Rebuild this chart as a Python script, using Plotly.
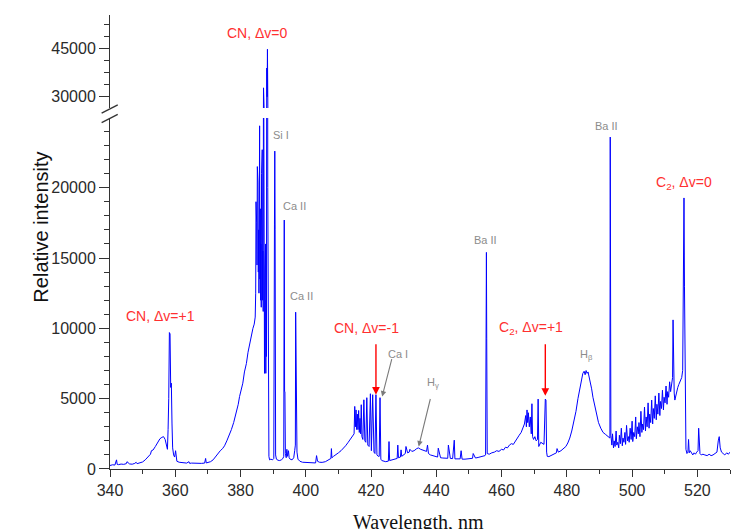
import plotly.graph_objects as go

# ---------------- data ----------------
wl_a = [340.0, 340.8, 341.5, 342.0, 342.2, 342.6, 343.4, 344.2, 345.0, 345.2, 346.0, 346.8,
        347.6, 348.0, 348.3, 349.2, 350.0, 350.8, 351.6, 352.4, 352.7, 353.2, 353.9, 354.6,
        355.3, 355.9, 356.4, 356.9, 357.3]
int_a = [250, 300, 280, 650, 330, 310, 350, 330, 380, 520, 360, 340,
         400, 480, 380, 420, 500, 650, 850, 1050, 1300, 1350, 1600, 1900,
         2150, 2250, 2300, 2100, 1650]

wl_b = [357.6, 357.8, 358.0, 358.2, 358.4, 358.6, 358.8, 359.0, 359.2, 359.5, 359.8, 360.1,
        360.3, 360.5, 361.2, 362.0, 362.8, 363.5, 364.2, 364.4, 365.0, 366.0, 367.0, 368.0,
        369.0, 369.3, 369.5, 370.0, 370.8, 371.6]
int_b = [1400, 2800, 5000, 9700, 9600, 5800, 6100, 3200, 1500, 1000, 850, 1300,
         700, 550, 480, 460, 430, 420, 520, 400, 420, 400, 380, 400,
         420, 750, 430, 460, 520, 650]

wl_c = [372.4, 373.1, 373.8, 374.5, 375.1, 375.8, 376.5, 377.2, 377.9, 378.7, 379.3, 379.7,
        380.2, 380.7, 381.2, 381.8, 382.3, 382.8, 383.3, 383.8, 384.2, 384.5]
int_c = [900, 1140, 1300, 1450, 1650, 2000, 2350, 2800, 3300, 3950, 4600, 5150,
         5600, 6100, 6900, 7500, 8300, 8950, 9600, 10000, 10300, 10800]

wl_d = [384.65, 384.75, 384.85, 384.95, 385.05, 385.15, 385.25, 385.35, 385.45, 385.55,
        385.65, 385.75, 385.85, 385.95, 386.05, 386.15, 386.25, 386.35, 386.45, 386.55,
        386.65, 386.75, 386.85, 386.95, 387.05, 387.15, 387.25, 387.35, 387.45, 387.55,
        387.65, 387.75, 387.85, 387.95, 388.05, 388.15, 388.25, 388.35, 388.45, 388.55,
        388.7, 388.9]
int_d = [12500, 19000, 13000, 17500, 14500, 21500, 15000, 20400, 14000, 17000,
         12500, 19000, 24400, 13500, 18500, 12000, 16000, 11500, 21000, 13000,
         22700, 12000, 15500, 11200, 32760, 12000, 16000, 6800, 14000, 7000,
         16000, 6800, 12000, 8000, 38900, 30000, 44700, 20000, 6000, 2000,
         900, 650]

wl_e = [389.3, 389.8, 390.2, 390.4, 390.5, 390.6, 390.75, 391.0, 391.5, 392.0, 392.5, 393.0,
        393.25, 393.4, 393.5, 393.6, 393.75, 394.0, 394.2, 394.4, 394.7, 394.9, 395.2, 395.8,
        396.3, 396.6, 396.8, 396.9, 397.0, 397.1, 397.3, 397.6, 398.2, 399.0, 400.0, 401.0,
        402.0, 403.0, 403.3, 403.6, 404.2, 405.0, 406.0, 407.0, 407.7, 407.85, 408.0]
int_e = [700, 650, 750, 17350, 22600, 17000, 1000, 700, 620, 600, 650, 750,
         900, 17700, 5500, 5500, 1100, 800, 1400, 900, 1300, 800, 700, 650,
         800, 1300, 1700, 11150, 5400, 2500, 1200, 700, 550, 480, 470, 450,
         420, 430, 950, 550, 480, 470, 520, 650, 750, 1450, 800]

wl_f = [408.5, 409.2, 410.0, 410.8, 411.5, 412.2, 413.0, 413.6, 414.2, 414.8, 415.0, 415.2,
        415.4, 415.6, 415.8, 416.0, 416.2, 416.4, 416.6, 416.8, 417.0, 417.2, 417.5, 417.8,
        418.1, 418.4, 418.7, 419.0, 419.4, 419.8, 420.1, 420.5, 420.9, 421.2, 421.5, 421.8,
        422.2, 422.5, 422.75, 423.0, 423.3]
int_f = [900, 1000, 1150, 1300, 1450, 1650, 1900, 2100, 2300, 2500, 4450, 3000,
         4200, 2800, 3900, 2800, 4160, 2600, 3600, 2500, 4570, 2300, 2100, 4920,
         2000, 1900, 5070, 1700, 1600, 5350, 1300, 5280, 1200, 1100, 5280, 1000,
         900, 900, 5070, 700, 600]

wl_g = [423.8, 424.5, 425.3, 425.5, 425.7, 426.5, 427.3, 428.0, 428.2, 428.4, 429.0, 429.2,
        429.4, 430.0, 430.5, 430.7, 431.2, 431.7, 431.9, 432.5, 433.2, 434.0, 434.5, 435.2,
        435.8, 436.5, 437.0, 437.3, 437.6, 438.2, 439.0, 439.8, 440.4, 440.6, 441.3, 442.0,
        442.8, 443.5, 443.7, 444.3, 445.0, 445.5, 445.7, 446.5, 447.3, 447.6, 447.9, 448.8,
        449.6, 450.4, 451.1, 451.3, 452.0, 452.8, 453.5, 454.2, 454.9]
int_g = [550, 520, 560, 1950, 600, 650, 700, 750, 1700, 800, 850, 1360,
         900, 1000, 1100, 1600, 1150, 1200, 1400, 1250, 1300, 1450, 1500, 1400,
         1350, 1300, 1250, 1700, 1100, 1000, 950, 880, 850, 1480, 800, 780,
         760, 760, 1700, 750, 740, 2050, 720, 700, 720, 1300, 700, 700,
         720, 750, 760, 1100, 780, 820, 850, 900, 950]

wl_h = [455.1, 455.25, 455.35, 455.45, 455.6, 456.2, 457.0, 457.8, 458.5, 459.2, 460.0, 460.6,
        461.2, 461.8, 462.4, 463.0, 463.6, 464.2, 464.8, 465.4, 466.0, 466.5, 467.0, 467.4,
        467.6, 467.8, 468.0, 468.2, 468.5, 468.8, 469.1, 469.3, 469.5, 469.8, 470.2, 470.6,
        471.0, 471.2, 471.4, 471.6, 472.0, 472.5, 473.0, 473.4, 473.6, 473.8, 474.0]
int_h = [1000, 9300, 15400, 9300, 1100, 1050, 1150, 1200, 1300, 1250, 1400, 1350,
         1550, 1500, 1700, 1800, 1750, 2000, 2200, 2400, 2600, 2900, 3200, 3800,
         3000, 4200, 3300, 4000, 3000, 3700, 2500, 4640, 2300, 2100, 2300, 2000,
         2100, 4970, 1600, 1700, 1900, 1800, 1750, 4970, 4900, 1200, 900]

wl_i = [474.5, 475.2, 476.0, 476.8, 477.0, 477.4, 478.2, 479.0, 479.7, 480.3, 480.9, 481.5,
        482.2, 482.8, 483.4, 483.9, 484.4, 484.9, 485.3, 485.6, 485.9, 486.2, 486.5, 486.8,
        487.2, 487.6, 488.0, 488.5, 489.1, 489.7, 490.4, 491.1, 491.9, 492.5, 493.0]
int_i = [880, 950, 1050, 1150, 1450, 1200, 1300, 1450, 1600, 1850, 2200, 2700,
         3400, 4100, 5000, 5700, 6300, 6800, 6950, 6700, 7000, 6800, 6900, 6600,
         6200, 5700, 5100, 4500, 3900, 3300, 2900, 2600, 2450, 2300, 2250]

wl_j = [493.2, 493.3, 493.4, 493.5, 493.8, 494.0, 494.3, 494.5, 494.8, 495.1, 495.3, 495.6,
        495.9, 496.1, 496.4, 496.7, 497.0, 497.2, 497.5, 497.8, 498.0, 498.3, 498.6, 498.9,
        499.1, 499.4, 499.7, 500.0, 500.2, 500.5, 500.8, 501.1, 501.3, 501.6, 501.9, 502.1,
        502.4, 502.7, 503.0, 503.2, 503.5, 503.8, 504.1, 504.3, 504.6, 504.9, 505.2, 505.4,
        505.7, 506.0, 506.3, 506.5, 506.8, 507.1, 507.4, 507.6, 507.9, 508.2, 508.5, 508.7,
        509.0, 509.3, 509.6, 509.8, 510.1, 510.4, 510.7, 510.9, 511.2, 511.5, 511.8, 512.1,
        512.4, 512.55, 512.7, 512.9, 513.1, 513.4, 513.7, 514.0, 514.3, 514.6, 514.9, 515.2,
        515.5, 515.75, 515.9, 516.05, 516.3, 516.5]
int_j = [2200, 23600, 9000, 2400, 1700, 2500, 1500, 2000, 1600, 2700, 1700, 1900,
         1500, 2400, 1800, 2900, 1650, 2200, 1900, 2600, 1750, 3100, 2000, 2300,
         1900, 2900, 2100, 3400, 1950, 2600, 2300, 3700, 2150, 3000, 2500, 3300,
         2300, 4100, 2600, 3200, 2800, 4400, 2700, 3700, 3000, 4700, 2900, 3900,
         3300, 4900, 3200, 4300, 3600, 5200, 3500, 4600, 3900, 5400, 3800, 4800,
         4300, 5600, 4200, 5100, 4700, 5900, 4600, 5500, 5100, 6200, 5500, 6000,
         6500, 10600, 6000, 5400, 4900, 5300, 5600, 5800, 6000, 6200, 6300, 6500,
         7000, 13000, 19270, 13000, 6000, 1400]

wl_k = [516.8, 517.1, 517.3, 517.5, 517.8, 518.2, 518.6, 519.0, 519.4, 519.8, 520.2, 520.4,
        520.6, 520.8, 521.2, 521.7, 522.3, 523.0, 523.6, 524.2, 524.8, 525.4, 526.0, 526.4,
        526.7, 527.0, 527.4, 527.9, 528.4, 529.0, 529.5, 530.0]
int_k = [1100, 1200, 2100, 1150, 1300, 1100, 1000, 1150, 1050, 1200, 1300, 2900,
         2000, 1100, 1000, 1050, 1000, 950, 1050, 950, 1000, 1100, 1200, 2000,
         2300, 1500, 1200, 1100, 1000, 1150, 1050, 1200]

wavelength_nm = wl_a + wl_b + wl_c + wl_d + wl_e + wl_f + wl_g + wl_h + wl_i + wl_j + wl_k
intensity = int_a + int_b + int_c + int_d + int_e + int_f + int_g + int_h + int_i + int_j + int_k

x_range = [340, 530]
y_low_range = [0, 24950]
y_high_range = [26500, 55300]
y_high_ticks = [30000, 45000]

# ---------------- figure ----------------
BLUE = "#0000ff"
RED = "#ff3030"
GRAY = "#8c8c8c"
AXC = "#333333"
SANS = "Liberation Sans, Arial, sans-serif"

fig = go.Figure()
for ax in ["y", "y2"]:
    fig.add_trace(go.Scatter(x=wavelength_nm, y=intensity, mode="lines",
                             line=dict(color=BLUE, width=1), xaxis="x", yaxis=ax,
                             showlegend=False, hoverinfo="skip"))

tickfont = dict(family=SANS, size=16, color="#2a2a2a")
common = dict(showline=True, linecolor=AXC, linewidth=1, ticks="outside",
              tickcolor=AXC, showgrid=False, zeroline=False, tickfont=tickfont,
              tickformat="d", automargin=False)

fig.update_layout(
    width=747, height=529,
    margin=dict(l=110, r=17, t=15, b=60, autoexpand=False),
    paper_bgcolor="white", plot_bgcolor="white",
    xaxis=dict(range=x_range, domain=[0, 1], anchor="y", tick0=340, dtick=20, ticklen=7,
               minor=dict(dtick=10, ticklen=4, tickcolor=AXC, ticks="outside"), **common),
    yaxis=dict(range=y_low_range, domain=[0, 0.773], anchor="x", tick0=0, dtick=5000, ticklen=10,
               minor=dict(dtick=1000, ticklen=5, tickcolor=AXC, ticks="outside"), **common),
    yaxis2=dict(range=y_high_range, domain=[0.795, 1], anchor="x", tickvals=y_high_ticks, ticklen=10,
                minor=dict(tick0=30000, dtick=3750, ticklen=5, tickcolor=AXC, ticks="outside"),
                **common),
)

# axis break marks
for y0, y1 in [(0.784, 0.802), (0.763, 0.781)]:
    fig.add_shape(type="line", xref="paper", yref="paper", x0=-0.0135, x1=0.0125,
                  y0=y0, y1=y1, line=dict(color=AXC, width=1.3))

# titles
fig.add_annotation(text="Relative intensity", xref="paper", yref="paper", x=-0.132, y=0.532,
                   textangle=-90, showarrow=False, font=dict(family=SANS, size=20, color="#111"))
fig.add_annotation(text="Wavelength, nm", xref="paper", yref="paper", x=0.498, y=-0.117,
                   showarrow=False, yanchor="middle",
                   font=dict(family="Liberation Serif, Times New Roman, serif", size=20, color="#111"))

# red band labels
red_font = dict(family=SANS, size=14, color=RED)
fig.add_annotation(text="CN, Δv=0", x=385.2, y=49740, xref="x", yref="y2", showarrow=False, font=red_font)
fig.add_annotation(text="CN, Δv=+1", x=355.5, y=10880, xref="x", yref="y", showarrow=False, font=red_font)
fig.add_annotation(text="CN, Δv=-1", x=418.6, y=10030, xref="x", yref="y", showarrow=False, font=red_font)
fig.add_annotation(text="C<sub>2</sub>, Δv=+1", x=469.0, y=10050, xref="x", yref="y", showarrow=False,
                   font=red_font)
fig.add_annotation(text="C<sub>2</sub>, Δv=0", x=515.9, y=20330, xref="x", yref="y", showarrow=False,
                   font=red_font)

# gray line labels
gray_font = dict(family=SANS, size=11, color=GRAY)
for txt, xv, yv in [("Si I", 392.4, 23730), ("Ca II", 396.4, 18720), ("Ca II", 398.7, 12300),
                    ("Ca I", 428.4, 8170), ("H<sub>γ</sub>", 439.1, 6130), ("Ba II", 455.0, 16280),
                    ("H<sub>β</sub>", 485.9, 8120), ("Ba II", 492.0, 24370)]:
    fig.add_annotation(text=txt, x=xv, y=yv, xref="x", yref="y", showarrow=False, font=gray_font)

# arrows
arrow_common = dict(xref="x", yref="y", text="", showarrow=True, arrowhead=2)
fig.add_annotation(x=421.5, y=5280, ax=0, ay=-52, arrowsize=1.1, arrowwidth=1.4,
                   arrowcolor="#ff0000", **arrow_common)
fig.add_annotation(x=473.4, y=5200, ax=0, ay=-53, arrowsize=1.1, arrowwidth=1.4,
                   arrowcolor="#ff0000", **arrow_common)
fig.add_annotation(x=423.4, y=5150, ax=10, ay=-39, arrowsize=1, arrowwidth=1.1,
                   arrowcolor="#7a7a7a", **arrow_common)
fig.add_annotation(x=434.6, y=1600, ax=12, ay=-49, arrowsize=1, arrowwidth=1.1,
                   arrowcolor="#7a7a7a", **arrow_common)

fig.write_html("out.html", config={"displayModeBar": False},
               post_script="document.body.style.margin='0px';")
